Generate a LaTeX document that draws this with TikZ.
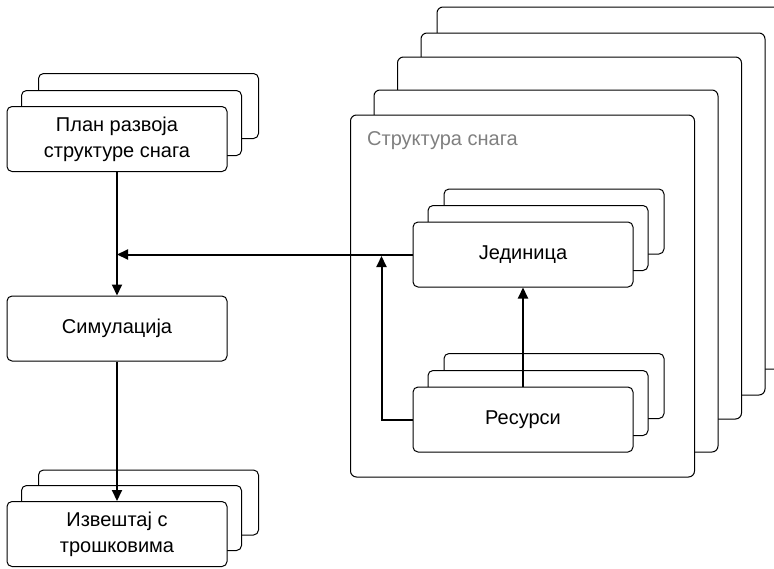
\documentclass[tikz,border=0pt]{standalone}
\usepackage{fontspec}
\setmainfont{Liberation Sans}
\usetikzlibrary{arrows.meta}
\begin{document}
\begin{tikzpicture}[x=1pt,y=-1pt,
  box/.style={draw=black,line width=1pt,fill=white,rounded corners=5pt,inner sep=0pt,
    minimum width=220pt,minimum height=65pt,font=\fontsize{20}{26}\selectfont,align=center},
  bigbox/.style={draw=black,line width=1pt,fill=white,rounded corners=6pt,inner sep=0pt,
    minimum width=344pt,minimum height=362pt},
  conn/.style={line width=2pt,-{Triangle[length=11pt,width=10pt]}},
  title/.style={font=\fontsize{20}{24}\selectfont,text=black!50,inner sep=0pt,anchor=base west}]
\useasboundingbox (0,0) rectangle (774,568);
\clip (0,0) rectangle (774,568);
% structure stack
\node[bigbox] (st5) at (609,188) {};
\node[bigbox] (st4) at (593,214) {};
\node[bigbox] (st3) at (569.5,238) {};
\node[bigbox] (st2) at (546,271) {};
\node[bigbox] (st1) at (522.5,296) {};
\node[title] (sttitle) at (367,145) {Структура снага};
% plan stack
\node[box] (plan3) at (148.5,106) {};
\node[box] (plan2) at (131.5,123) {};
\node[box] (plan) at (117,139) {План развоја\\структуре снага};
% simulation
\node[box] (sim) at (117,328.5) {Симулација};
% report stack
\node[box] (rep3) at (148.5,502.5) {};
\node[box] (rep2) at (131.5,518) {};
\node[box] (rep) at (117,534) {Извештај с\\трошковима};
% unit stack
\node[box] (jed3) at (554,221.5) {};
\node[box] (jed2) at (538,238) {};
\node[box] (jed) at (523,254.5) {Јединица};
% resources stack
\node[box] (res3) at (554,386) {};
\node[box] (res2) at (538,403) {};
\node[box] (res) at (523,419.5) {Ресурси};
% connectors
\draw[conn] (plan.south) -- (sim.north);
\draw[conn] (sim.south) -- (rep.north);
\draw[conn] (jed.west) -- (jed.west -| sim.north);
\draw[conn] (res.north) -- (jed.south);
\draw[conn] (res.west) -| ([xshift=-31pt,yshift=-1.5pt]jed.west);
\end{tikzpicture}
\end{document}
